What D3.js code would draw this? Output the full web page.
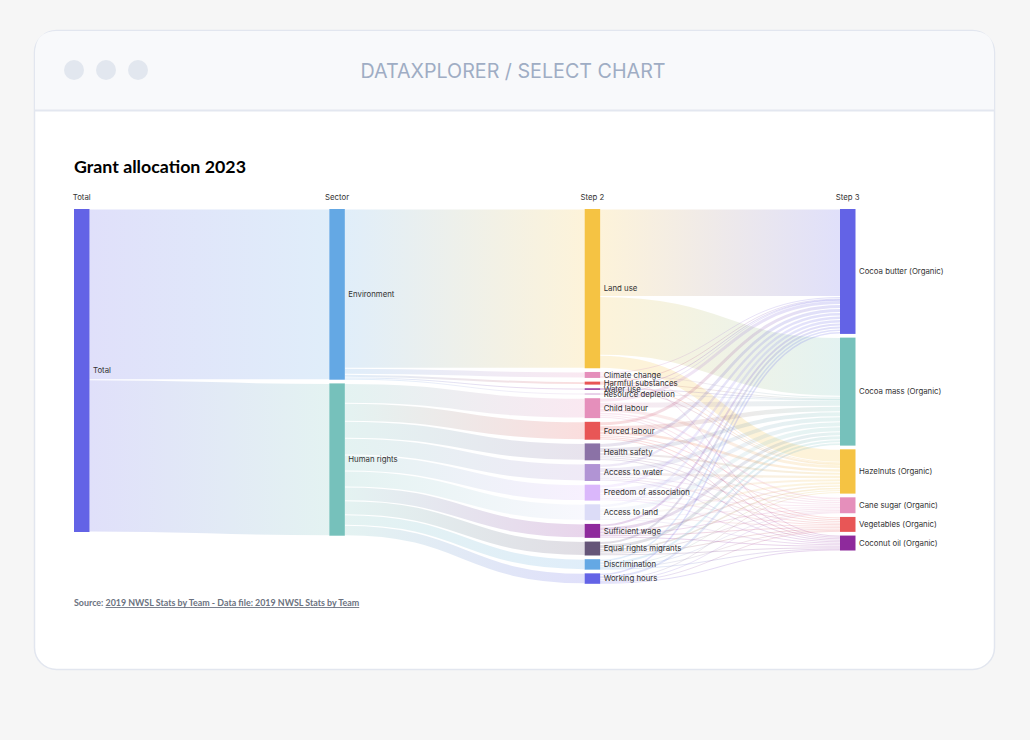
<!DOCTYPE html>
<html>
<head>
<meta charset="utf-8">
<script src="https://cdn.jsdelivr.net/npm/d3@7"></script>
<style>
  body { margin: 0; background: #f6f6f6; }
  svg { display: block; }
  .lbl { font-family: Inter, "Noto Sans", sans-serif; font-size: 7.8px; fill: #333; }
</style>
</head>
<body>
<svg id="chart" width="1030" height="740"></svg>
<script>
// column headers
const columns = ["Total", "Sector", "Step 2", "Step 3"];

// nodes, in drawing order inside each column
const nodeNames = [
  "Total",
  "Environment", "Human rights",
  "Land use", "Climate change", "Harmful substances", "Water use", "Resource depletion",
  "Child labour", "Forced labour", "Health safety", "Access to water", "Freedom of association",
  "Access to land", "Sufficient wage", "Equal rights migrants", "Discrimination", "Working hours",
  "Cocoa butter (Organic)", "Cocoa mass (Organic)", "Hazelnuts (Organic)",
  "Cane sugar (Organic)", "Vegetables (Organic)", "Coconut oil (Organic)"
];
const nodeColumns = [
  "Total",
  "Sector", "Sector",
  "Step 2", "Step 2", "Step 2", "Step 2", "Step 2",
  "Step 2", "Step 2", "Step 2", "Step 2", "Step 2",
  "Step 2", "Step 2", "Step 2", "Step 2", "Step 2",
  "Step 3", "Step 3", "Step 3", "Step 3", "Step 3", "Step 3"
];
const nodeColors = [
  "#6363e6",
  "#64a8e4", "#76c1bb",
  "#f5c343", "#e58fbb", "#e85656", "#8e2a9c", "#d2a6d6",
  "#e58fbb", "#e85656", "#8b72a6", "#b194d4", "#dab7fb",
  "#dcdcf7", "#8e2a9c", "#655578", "#64a8e4", "#6363e6",
  "#6363e6", "#76c1bb", "#f5c343", "#e58fbb", "#e85656", "#8e2a9c"
];

// flows
const totalToSector = [
  ["Total", "Environment", 171.5],
  ["Total", "Human rights", 153]
];
const sectorToStep2 = [
  ["Environment", "Land use", 160],
  ["Environment", "Climate change", 6],
  ["Environment", "Harmful substances", 3],
  ["Environment", "Water use", 1.5],
  ["Environment", "Resource depletion", 1],
  ["Human rights", "Child labour", 20],
  ["Human rights", "Forced labour", 18],
  ["Human rights", "Health safety", 17],
  ["Human rights", "Access to water", 17],
  ["Human rights", "Freedom of association", 16],
  ["Human rights", "Access to land", 16],
  ["Human rights", "Sufficient wage", 14],
  ["Human rights", "Equal rights migrants", 14],
  ["Human rights", "Discrimination", 10.5],
  ["Human rights", "Working hours", 10.5]
];
const step3Names = nodeNames.slice(18);
// rows: step 2 node, columns: butter, mass, hazelnuts, cane sugar, vegetables, coconut oil
const step2ToStep3 = [
  ["Land use",               [88, 59, 13, 0, 0, 0]],
  ["Climate change",         [2, 2, 1, 0, 0, 1]],
  ["Harmful substances",     [1, 1, 1, 0, 0, 0]],
  ["Water use",              [0.5, 0.5, 0.5, 0, 0, 0]],
  ["Resource depletion",     [0.5, 0.5, 0, 0, 0, 0]],
  ["Child labour",           [4, 6, 4, 2.5, 2, 1.5]],
  ["Forced labour",          [4, 5.5, 3.5, 2, 1.5, 1.5]],
  ["Health safety",          [4, 5, 3, 1.5, 2, 1.5]],
  ["Access to water",        [3.5, 5, 3.5, 2, 1.5, 1.5]],
  ["Freedom of association", [3.5, 5, 3, 1.5, 1.5, 1.5]],
  ["Access to land",         [3.5, 5, 3, 1.5, 1.5, 1.5]],
  ["Sufficient wage",        [3, 4, 2.5, 1.5, 1.5, 1.5]],
  ["Equal rights migrants",  [3, 4, 2.5, 1.5, 1.5, 1.5]],
  ["Discrimination",         [2.5, 3, 2, 1, 1, 1]],
  ["Working hours",          [2.5, 3, 2, 1, 1, 1]]
];

const svg = d3.select("#chart");

// window frame
svg.append("rect").attr("x", 34.5).attr("y", 30.5).attr("width", 960).attr("height", 639)
  .attr("rx", 22).attr("fill", "#fff").attr("stroke", "#e2e6ef").attr("stroke-width", 1.5);
svg.append("path")
  .attr("d", "M35.3,110 L35.3,52.5 Q35.3,31.3 56.5,31.3 L972.5,31.3 Q993.7,31.3 993.7,52.5 L993.7,110 Z")
  .attr("fill", "#f8f9fb");
svg.append("line").attr("x1", 34.5).attr("x2", 994.5).attr("y1", 110.5).attr("y2", 110.5)
  .attr("stroke", "#e3e7f0").attr("stroke-width", 2);
svg.selectAll("circle.dot").data([74, 106, 138]).enter().append("circle")
  .attr("class", "dot").attr("cx", d => d).attr("cy", 70).attr("r", 10).attr("fill", "#e2e7ef");
svg.append("text").attr("x", 513).attr("y", 78).attr("text-anchor", "middle")
  .attr("font-family", "Inter, sans-serif").attr("font-size", 19.7).attr("fill", "#9fadc4")
  .text("DATAXPLORER / SELECT CHART");

svg.append("text").attr("x", 74).attr("y", 172.5)
  .attr("font-family", "Lato, sans-serif").attr("font-weight", 700).attr("font-size", 17.8)
  .attr("fill", "#000").text("Grant allocation 2023");

// build graph
const nodes = nodeNames.map((name, i) => ({
  name, col: nodeColumns[i], color: nodeColors[i], sourceLinks: [], targetLinks: []
}));
const byName = new Map(nodes.map(n => [n.name, n]));
const flowRows = [...totalToSector, ...sectorToStep2];
step2ToStep3.forEach(([s, vals]) => vals.forEach((v, j) => { if (v > 0) flowRows.push([s, step3Names[j], v]); }));
const links = flowRows.map(([s, t, v]) => ({ source: byName.get(s), target: byName.get(t), value: v }));
links.forEach(l => { l.source.sourceLinks.push(l); l.target.targetLinks.push(l); });
nodes.forEach(n => n.value = Math.max(d3.sum(n.sourceLinks, l => l.value), d3.sum(n.targetLinks, l => l.value)));

const nodeWidth = 15.5;
const padding = 3.7;
const topY = 209;
const x = d3.scalePoint().domain(columns).range([74, 840]);
const k = d3.scaleLinear()
  .domain([0, d3.sum(nodes.filter(n => n.col === "Total"), n => n.value)])
  .range([0, 323]);

columns.forEach(c => {
  let y = topY;
  nodes.filter(n => n.col === c).forEach(n => {
    n.x0 = x(c); n.x1 = n.x0 + nodeWidth;
    n.y0 = y; n.y1 = y + k(n.value);
    y = n.y1 + padding;
  });
});
nodes.forEach(n => {
  n.sourceLinks.sort((a, b) => a.target.y0 - b.target.y0);
  n.targetLinks.sort((a, b) => a.source.y0 - b.source.y0);
  let y = n.y0;
  n.sourceLinks.forEach(l => { l.width = k(l.value); l.y0 = y + l.width / 2; y += l.width; });
  y = n.y0;
  n.targetLinks.forEach(l => { l.y1 = y + l.width / 2; y += l.width; });
});

// column headers
svg.selectAll("text.col").data(columns).enter().append("text")
  .attr("class", "lbl col").attr("x", d => x(d) + nodeWidth / 2).attr("y", 200)
  .attr("text-anchor", "middle").text(d => d);

// links with gradients
const defs = svg.append("defs");
links.forEach((l, i) => {
  const g = defs.append("linearGradient").attr("id", "g" + i)
    .attr("gradientUnits", "userSpaceOnUse")
    .attr("x1", l.source.x1).attr("x2", l.target.x0);
  g.append("stop").attr("offset", "0%").attr("stop-color", l.source.color);
  g.append("stop").attr("offset", "100%").attr("stop-color", l.target.color);
});
const linkPath = d3.linkHorizontal()
  .source(d => [d.source.x1, d.y0])
  .target(d => [d.target.x0, d.y1]);
svg.append("g").attr("fill", "none").attr("stroke-opacity", 0.2)
  .selectAll("path").data(links).enter().append("path")
  .attr("d", linkPath)
  .attr("stroke", (d, i) => `url(#g${i})`)
  .attr("stroke-width", d => Math.max(1, d.width - 1));

// nodes
svg.append("g").selectAll("rect").data(nodes).enter().append("rect")
  .attr("x", d => d.x0).attr("y", d => d.y0)
  .attr("width", nodeWidth).attr("height", d => Math.max(1, d.y1 - d.y0))
  .attr("fill", d => d.color);
svg.append("g").selectAll("text").data(nodes).enter().append("text")
  .attr("class", "lbl")
  .attr("x", d => d.x1 + 3.5).attr("y", d => (d.y0 + d.y1) / 2).attr("dy", "0.35em")
  .text(d => d.name);

// source line
const src = svg.append("text").attr("x", 74).attr("y", 606)
  .attr("font-family", "Lato, sans-serif").attr("font-weight", 700).attr("font-size", 8.9)
  .attr("fill", "#6b7280");
src.append("tspan").text("Source: ");
src.append("tspan").attr("text-decoration", "underline")
  .text("2019 NWSL Stats by Team - Data file: 2019 NWSL Stats by Team");
</script>
</body>
</html>
